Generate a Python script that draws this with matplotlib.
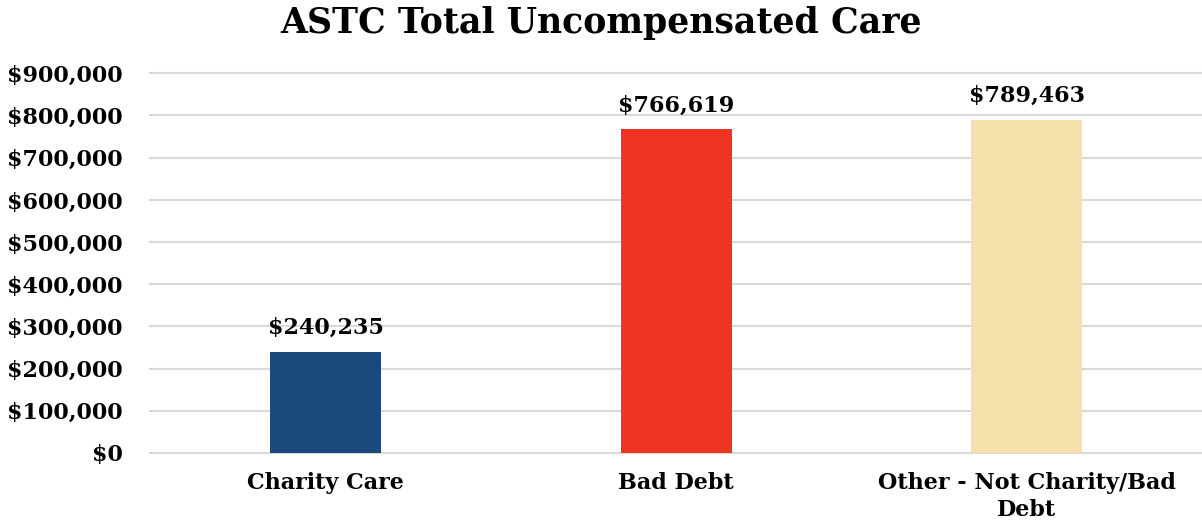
import matplotlib.pyplot as plt
from matplotlib.ticker import FuncFormatter

categories = ['Charity Care', 'Bad Debt', 'Other - Not Charity/Bad\nDebt']
amounts = [240235, 766619, 789463]
colors = ['#1A4A7C', '#EE3524', '#F5DFAB']

plt.rcParams['font.family'] = ['DejaVu Serif']
plt.rcParams['font.weight'] = 'bold'

fig = plt.figure(figsize=(12.02, 5.23), dpi=100)
ax = fig.add_axes([0.125, 0.134, 0.875, 0.726])

x = range(len(categories))
ax.bar(x, amounts, width=0.316, color=colors, zorder=3)

for xi, v in zip(x, amounts):
    ax.text(xi, v + 30000, '${:,}'.format(v), ha='center', va='bottom',
            fontsize=16, fontweight='bold')

ax.set_xlim(-0.5, 2.5)
ax.set_ylim(0, 900000)
ax.set_yticks(range(0, 900001, 100000))
ax.yaxis.set_major_formatter(FuncFormatter(lambda v, p: '${:,.0f}'.format(v)))
ax.set_xticks(list(x))
ax.set_xticklabels(categories, fontsize=16, fontweight='bold', linespacing=1.25)
ax.tick_params(axis='y', labelsize=16, length=0, pad=20)
ax.tick_params(axis='x', length=0, pad=14)

ax.grid(axis='y', color='#D9D9D9', linewidth=1.5, zorder=0)
for s in ax.spines.values():
    s.set_visible(False)
for gl in ax.get_ygridlines():
    gl.set_clip_on(False)

fig.suptitle('ASTC Total Uncompensated Care', fontsize=25, fontweight='bold', y=0.988)

fig.savefig('out.png', dpi=100)
